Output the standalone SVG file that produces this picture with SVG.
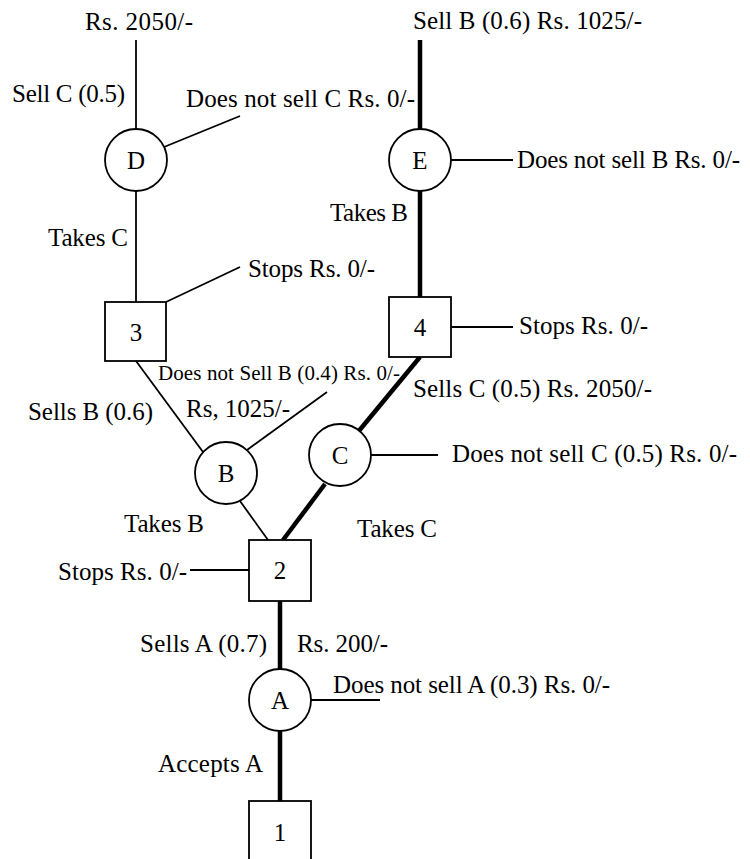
<svg xmlns="http://www.w3.org/2000/svg" width="750" height="859" viewBox="0 0 750 859">
<style>
.n{fill:#fff;stroke:#000;stroke-width:1.8}
.t{font-family:'Liberation Serif','DejaVu Serif',serif;font-size:25px;fill:#000}
.s{font-size:21px}
.c{text-anchor:middle}
.thin{stroke:#000;stroke-width:1.8;fill:none}
.thick{stroke:#000;stroke-width:4.5;fill:none}
</style>
<rect width="750" height="859" fill="#fff"/>
<g id="connectors">
<line class="thin" x1="136" y1="40" x2="136" y2="129"/>
<line class="thin" x1="164" y1="147" x2="240" y2="116"/>
<line class="thin" x1="136" y1="191" x2="136" y2="302"/>
<line class="thin" x1="166" y1="302" x2="240" y2="267"/>
<line class="thin" x1="136" y1="361" x2="203" y2="452"/>
<line class="thin" x1="247" y1="450" x2="327" y2="392"/>
<line class="thin" x1="240" y1="501" x2="268" y2="540"/>
<line class="thick" x1="420" y1="40" x2="420" y2="129"/>
<line class="thin" x1="451" y1="160" x2="513" y2="160"/>
<line class="thick" x1="420" y1="191" x2="420" y2="297"/>
<line class="thin" x1="451" y1="327" x2="513" y2="327"/>
<line class="thick" x1="420" y1="357" x2="358" y2="432"/>
<line class="thin" x1="371" y1="455" x2="438" y2="455"/>
<line class="thick" x1="325" y1="484" x2="283" y2="540"/>
<line class="thin" x1="190" y1="570" x2="249" y2="570"/>
<line class="thick" x1="280" y1="601" x2="280" y2="669"/>
<line class="thin" x1="311" y1="700" x2="380" y2="700"/>
<line class="thick" x1="280" y1="731" x2="280" y2="801"/>
</g>
<g id="labels">
<text class="t" x="85" y="30" textLength="108">Rs. 2050/-</text>
<text class="t" x="12" y="102" textLength="113">Sell C (0.5)</text>
<text class="t" x="186" y="107" textLength="229">Does not sell C Rs. 0/-</text>
<text class="t" x="413" y="29" textLength="229">Sell B (0.6) Rs. 1025/-</text>
<text class="t" x="517" y="168" textLength="223">Does not sell B Rs. 0/-</text>
<text class="t" x="330" y="221" textLength="78">Takes B</text>
<text class="t" x="48" y="246" textLength="80">Takes C</text>
<text class="t" x="248" y="277" textLength="127">Stops Rs. 0/-</text>
<text class="t" x="519" y="334" textLength="129">Stops Rs. 0/-</text>
<text class="t s" x="158" y="380" textLength="242">Does not Sell B (0.4) Rs. 0/-</text>
<text class="t" x="413" y="397" textLength="239">Sells C (0.5) Rs. 2050/-</text>
<text class="t" x="28" y="420" textLength="125">Sells B (0.6)</text>
<text class="t" x="186" y="417" textLength="104">Rs, 1025/-</text>
<text class="t" x="452" y="462" textLength="285">Does not sell C (0.5) Rs. 0/-</text>
<text class="t" x="124" y="532" textLength="80">Takes B</text>
<text class="t" x="357" y="537" textLength="80">Takes C</text>
<text class="t" x="58" y="580" textLength="129">Stops Rs. 0/-</text>
<text class="t" x="140" y="652" textLength="127">Sells A (0.7)</text>
<text class="t" x="297" y="652" textLength="91">Rs. 200/-</text>
<text class="t" x="333" y="693" textLength="277">Does not sell A (0.3) Rs. 0/-</text>
<text class="t" x="158" y="772" textLength="105">Accepts A</text>
</g>
<g id="node-D"><circle class="n" cx="136" cy="160" r="31"/><text class="t c" x="136" y="169">D</text></g>
<g id="node-E"><circle class="n" cx="420" cy="160" r="31"/><text class="t c" x="420" y="169">E</text></g>
<g id="node-3"><rect class="n" x="105" y="302" width="61" height="59"/><text class="t c" x="136" y="341">3</text></g>
<g id="node-4"><rect class="n" x="389" y="297" width="62" height="60"/><text class="t c" x="420" y="336">4</text></g>
<g id="node-B"><circle class="n" cx="226" cy="473" r="31"/><text class="t c" x="226" y="482">B</text></g>
<g id="node-C"><circle class="n" cx="340" cy="455" r="31"/><text class="t c" x="340" y="464">C</text></g>
<g id="node-2"><rect class="n" x="249" y="540" width="62" height="61"/><text class="t c" x="280" y="579">2</text></g>
<g id="node-A"><circle class="n" cx="280" cy="700" r="31"/><text class="t c" x="280" y="709">A</text></g>
<g id="node-1"><rect class="n" x="249" y="801" width="62" height="64"/><text class="t c" x="280" y="841">1</text></g>
</svg>
